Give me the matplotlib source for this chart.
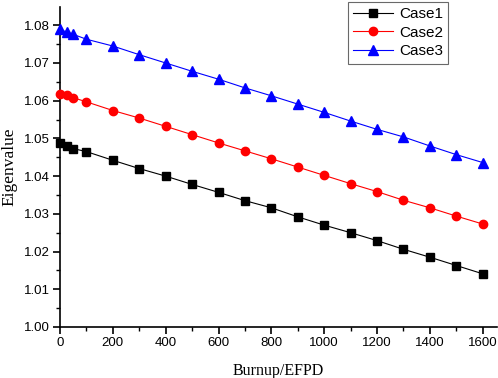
import numpy as np
import matplotlib.pyplot as plt
from matplotlib.ticker import MultipleLocator

# Данные
burnup = [0, 25, 50, 100, 200, 300, 400, 500, 600, 700, 800,
          900, 1000, 1100, 1200, 1300, 1400, 1500, 1600]
case1 = [1.0487, 1.0480, 1.0473, 1.0465, 1.0442, 1.0420, 1.0400, 1.0378, 1.0357, 1.0335,
         1.0316, 1.0292, 1.0270, 1.0250, 1.0229, 1.0206, 1.0185, 1.0163, 1.0141]
case2 = [1.0619, 1.0615, 1.0608, 1.0597, 1.0574, 1.0554, 1.0532, 1.0510, 1.0488, 1.0467,
         1.0446, 1.0424, 1.0402, 1.0380, 1.0359, 1.0336, 1.0316, 1.0294, 1.0273]
case3 = [1.0789, 1.0782, 1.0776, 1.0763, 1.0745, 1.0722, 1.0700, 1.0678, 1.0657, 1.0634,
         1.0613, 1.0591, 1.0569, 1.0546, 1.0524, 1.0504, 1.0480, 1.0457, 1.0436]
labels = ['Case1', 'Case2', 'Case3']

fig = plt.figure(figsize=(4.98, 3.78), dpi=100)
ax = fig.add_axes([0.1205, 0.135, 0.878, 0.846])

ax.plot(burnup, case1, color='black', lw=0.8, marker='s', ms=5.5, label=labels[0], clip_on=False, zorder=3)
ax.plot(burnup, case2, color='red', lw=0.8, marker='o', ms=6, label=labels[1], clip_on=False, zorder=3)
ax.plot(burnup, case3, color='blue', lw=0.8, marker='^', ms=6.5, label=labels[2], clip_on=False, zorder=3)

ax.set_xlim(0, 1655)
ax.set_ylim(1.00, 1.0848)
ax.xaxis.set_major_locator(MultipleLocator(200))
ax.xaxis.set_minor_locator(MultipleLocator(100))
ax.yaxis.set_major_locator(MultipleLocator(0.01))
ax.yaxis.set_minor_locator(MultipleLocator(0.005))
ax.yaxis.set_major_formatter(plt.FormatStrFormatter('%.2f'))

ax.spines['top'].set_visible(False)
ax.spines['right'].set_visible(False)
ax.spines['left'].set_linewidth(1.2)
ax.spines['bottom'].set_linewidth(1.2)
ax.tick_params(which='major', direction='out', length=5, width=1.2, labelsize=9.5, pad=2.5)
ax.tick_params(which='minor', direction='out', length=3, width=1.0)
for t in ax.get_xticklabels() + ax.get_yticklabels():
    t.set_fontfamily('Liberation Sans')

ax.set_xlabel('Burnup/EFPD', family='Liberation Serif', fontsize=11.5)
ax.set_ylabel('Eigenvalue', family='Liberation Serif', fontsize=12.5)
ax.xaxis.set_label_coords(0.5, -0.112)
ax.yaxis.set_label_coords(-0.097, 0.5)

leg = ax.legend(loc='upper right', bbox_to_anchor=(0.888, 1.017), prop={'family': 'Liberation Sans', 'size': 11},
                frameon=True, fancybox=False, edgecolor='#444444', handlelength=2.6,
                borderpad=0.35, labelspacing=0.3, handletextpad=0.4, borderaxespad=0)
leg.get_frame().set_linewidth(0.8)

plt.savefig('out.png', dpi=100)
